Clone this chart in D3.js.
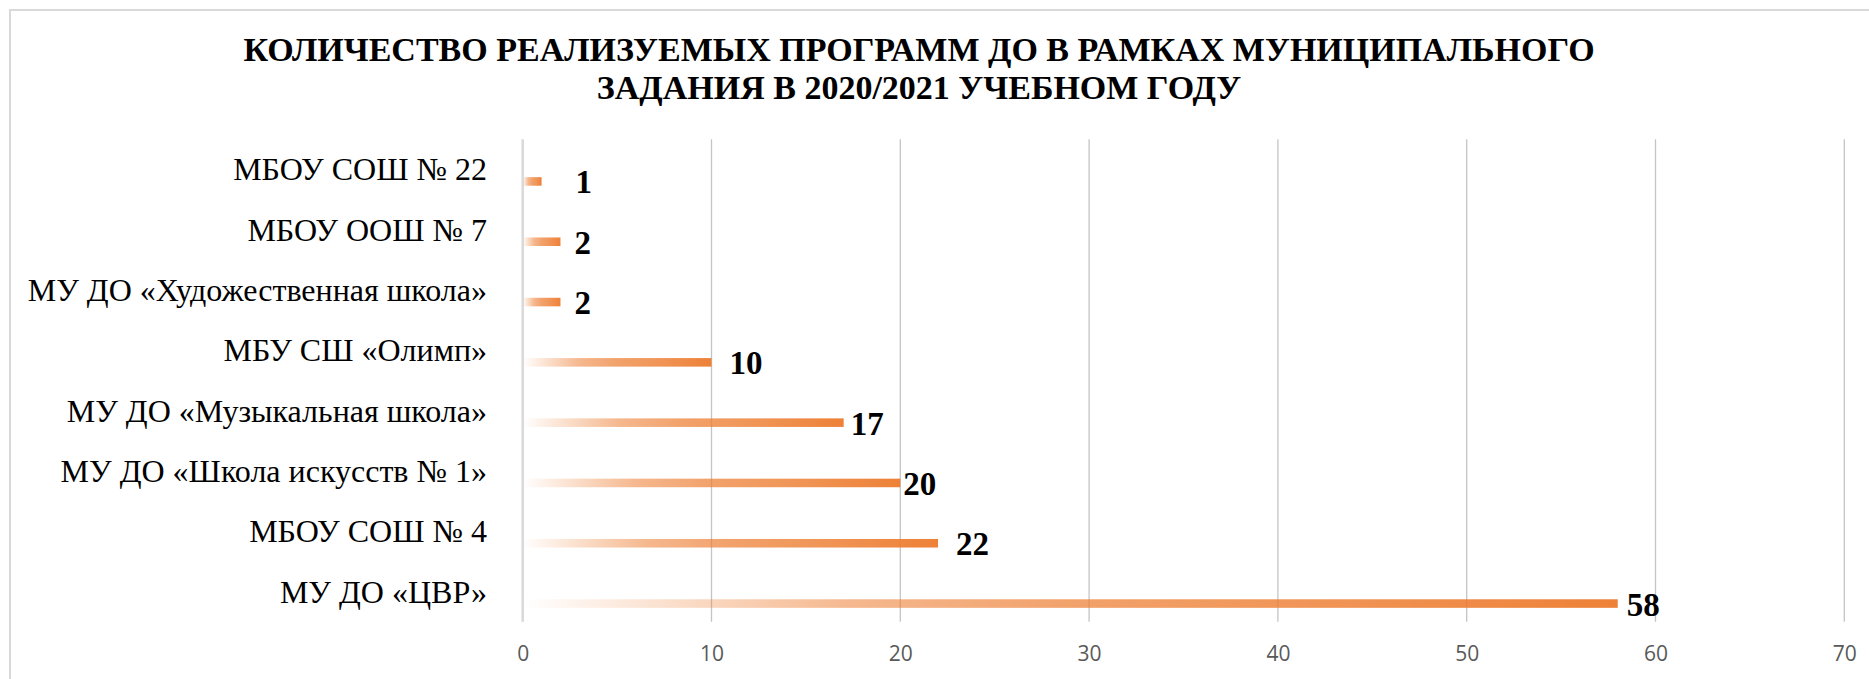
<!DOCTYPE html>
<html><head><meta charset="utf-8">
<script src="https://cdn.jsdelivr.net/npm/d3@7"></script>
<style>body{margin:0;background:#fff;overflow:hidden} svg{display:block}</style>
</head><body>
<svg id="chart" width="1869" height="679"></svg>
<script>
const categories = ["МБОУ СОШ № 22","МБОУ ООШ № 7","МУ ДО «Художественная школа»","МБУ СШ «Олимп»","МУ ДО «Музыкальная школа»","МУ ДО «Школа искусств № 1»","МБОУ СОШ № 4","МУ ДО «ЦВР»"];
const values = [1, 2, 2, 10, 17, 20, 22, 58];
const xTicks = [0, 10, 20, 30, 40, 50, 60, 70];
const titleLines = ["КОЛИЧЕСТВО РЕАЛИЗУЕМЫХ ПРОГРАММ ДО В РАМКАХ МУНИЦИПАЛЬНОГО", "ЗАДАНИЯ В 2020/2021 УЧЕБНОМ ГОДУ"];
// manually placed data labels in the original: gap (px) after bar end
const labelGap = [34, 14, 14, 18, 7, 3, 18, 9];

const svg = d3.select("#chart");
const plot = {left: 522.7, right: 1844.3, top: 139.3, bottom: 621.7};

// outer chart border
svg.append("rect").attr("x", 10).attr("y", 10).attr("width", 1900).attr("height", 700)
  .attr("fill", "#fff").attr("stroke", "#d9d9d9").attr("stroke-width", 2);

const x = d3.scaleLinear().domain([0, 70]).range([plot.left, plot.right]);
const y = d3.scaleBand().domain(categories).range([plot.top, plot.bottom]).padding(0);
const bw = y.bandwidth();

// title
svg.append("g").selectAll("text").data(titleLines).join("text")
  .attr("x", 919).attr("y", (d, i) => 61 + i * 38)
  .attr("text-anchor", "middle")
  .attr("font-family", "'Liberation Serif', 'Times New Roman', serif")
  .attr("font-weight", "bold").attr("font-size", 34).attr("fill", "#000")
  .text(d => d);

// gridlines
svg.append("g").selectAll("line").data(xTicks.filter(d => d !== 0)).join("line")
  .attr("x1", d => x(d)).attr("x2", d => x(d))
  .attr("y1", plot.top).attr("y2", plot.bottom)
  .attr("stroke", "#c4c4c4").attr("stroke-width", 1.3);

// gradient
const defs = svg.append("defs");
const grad = defs.append("linearGradient").attr("id", "barGrad")
  .attr("x1", "0%").attr("x2", "100%").attr("y1", "0%").attr("y2", "0%");
[[0, 0.0], [0.12, 0.22], [0.3, 0.55], [0.5, 0.72], [0.75, 0.83], [1, 0.97]].forEach(([o, a]) => {
  grad.append("stop").attr("offset", o).attr("stop-color", "#ED7D31").attr("stop-opacity", a);
});

// bars
svg.append("g").selectAll("rect").data(values).join("rect")
  .attr("x", x(0))
  .attr("y", (d, i) => y(categories[i]) + bw * 0.628)
  .attr("width", d => x(d) - x(0))
  .attr("height", bw * 0.142)
  .attr("fill", "url(#barGrad)");

// vertical axis line
svg.append("line").attr("x1", x(0)).attr("x2", x(0)).attr("y1", plot.top).attr("y2", plot.bottom)
  .attr("stroke", "#d9d9d9").attr("stroke-width", 2.5);

// category labels
svg.append("g").selectAll("text").data(categories).join("text")
  .attr("x", 487).attr("y", d => y(d) + bw / 2 + 11)
  .attr("text-anchor", "end")
  .attr("font-family", "'Liberation Serif', 'Times New Roman', serif")
  .attr("font-size", 32).attr("fill", "#000")
  .text(d => d);

// data labels
svg.append("g").selectAll("text").data(values).join("text")
  .attr("x", (d, i) => x(d) + labelGap[i])
  .attr("y", (d, i) => y(categories[i]) + bw * 0.628 + bw * 0.071 + 12)
  .attr("font-family", "'Liberation Serif', 'Times New Roman', serif")
  .attr("font-weight", "bold").attr("font-size", 33).attr("fill", "#000")
  .text(d => d);

// x axis tick labels
const axis = d3.axisBottom(x).tickValues(xTicks).tickSize(0).tickPadding(0).tickFormat(d3.format("d"));
const ax = svg.append("g").attr("transform", `translate(0,${plot.bottom})`).call(axis);
ax.select(".domain").remove();
ax.selectAll("text").attr("dy", null).attr("y", 39)
  .attr("font-family", "'Open Sans', 'Noto Sans', sans-serif")
  .attr("font-size", 21).attr("fill", "#595959");
</script>
</body></html>
